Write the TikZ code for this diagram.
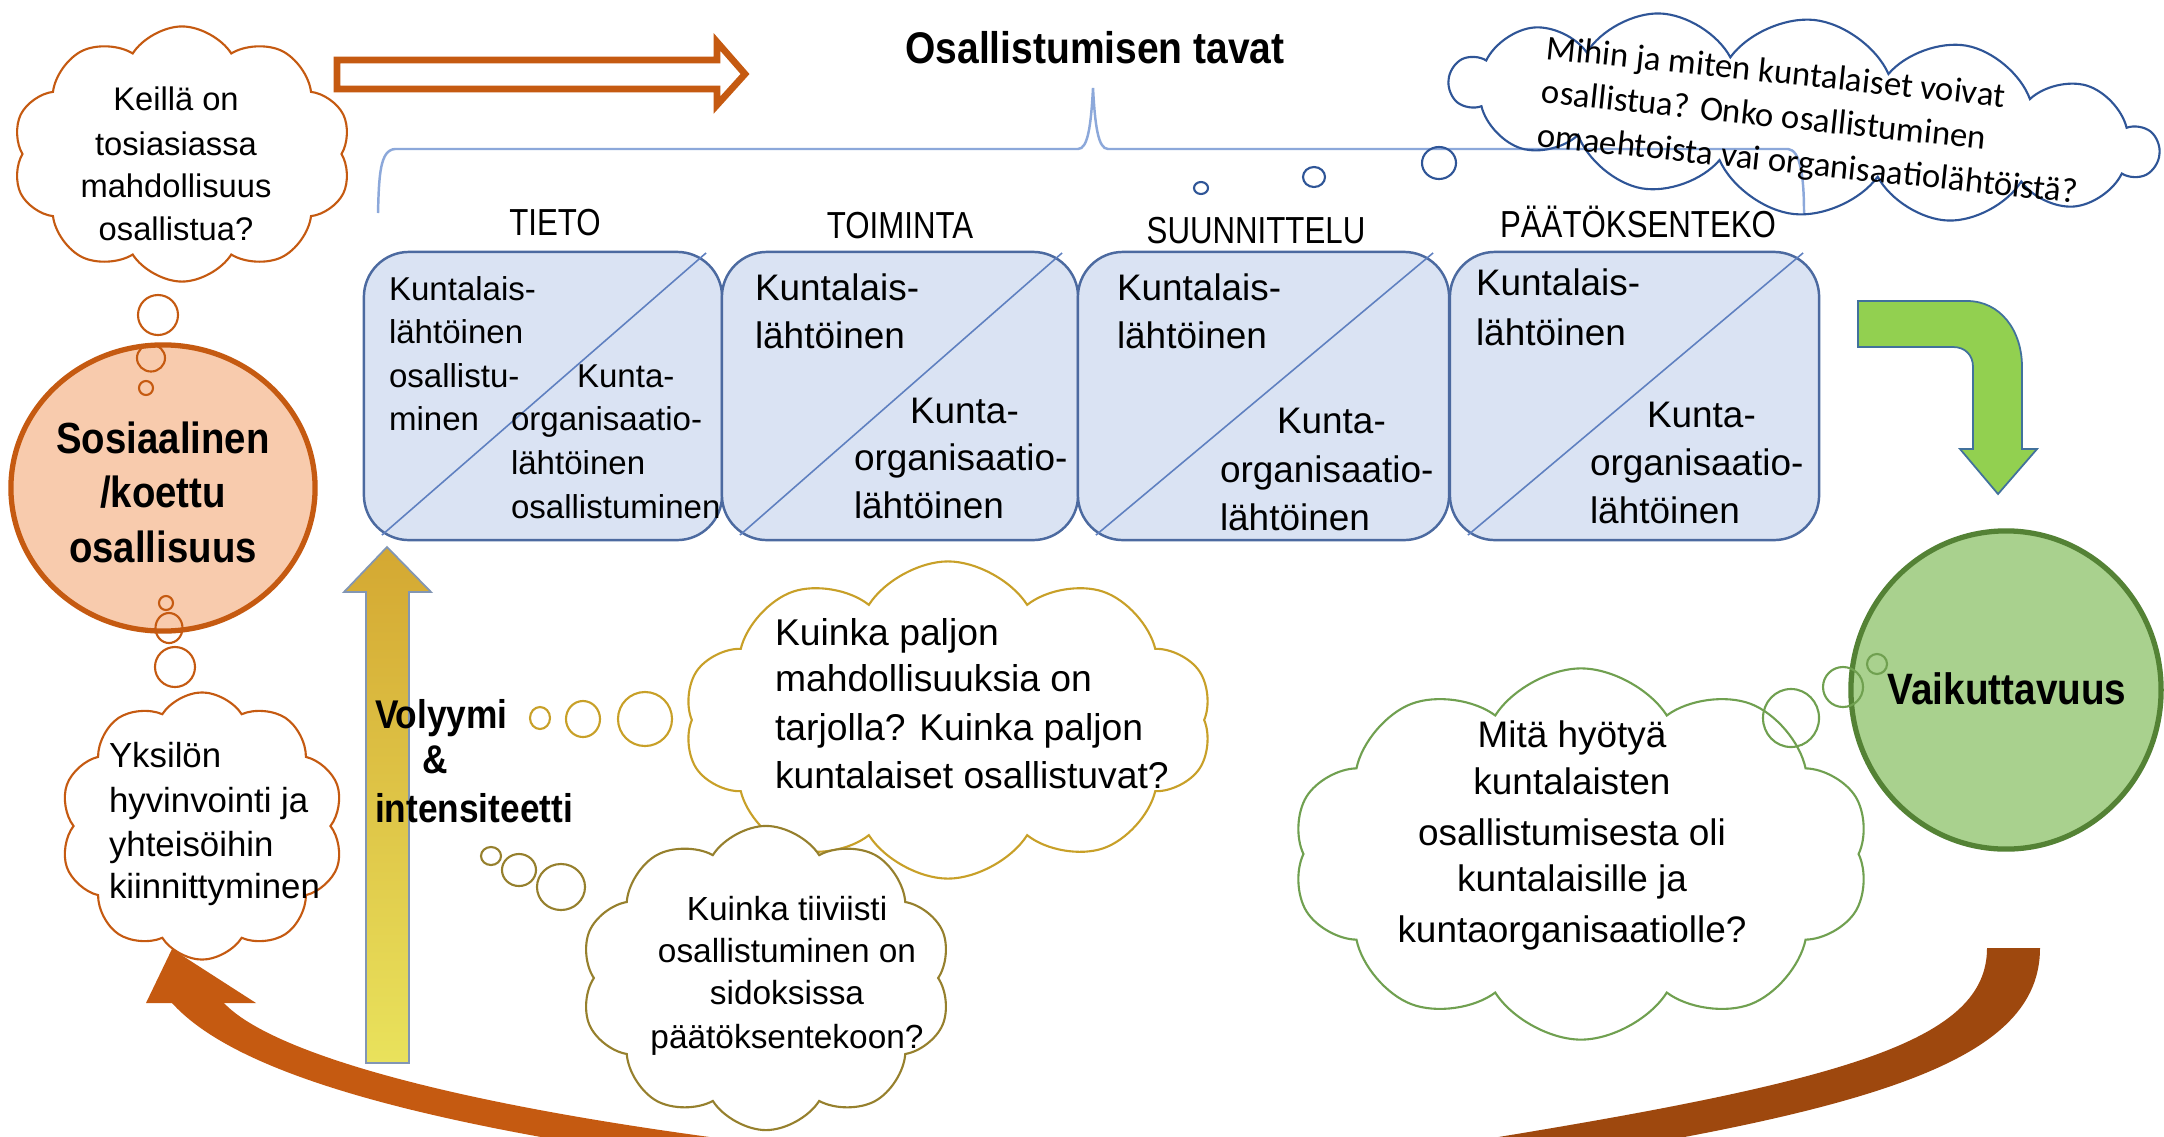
\documentclass[tikz,border=0pt]{standalone}
\usepackage{fontspec}
\setmainfont{Liberation Sans}
\newfontfamily\narrowfont{Liberation Sans}[FakeStretch=0.83]
\newfontfamily\boldnarrow{Liberation Sans}[FakeStretch=0.88]
\newfontfamily\calfont{Carlito}
\usetikzlibrary{shapes.geometric,shapes.symbols,calc}
\definecolor{boxfill}{RGB}{218,227,243}
\definecolor{boxdraw}{RGB}{76,106,160}
\definecolor{diagc}{RGB}{95,128,192}
\definecolor{bracec}{RGB}{140,168,218}
\definecolor{orng}{RGB}{197,90,17}
\definecolor{peach}{RGB}{248,203,173}
\definecolor{brownr}{RGB}{158,72,14}
\definecolor{goldA}{RGB}{200,160,40}
\definecolor{goldB}{RGB}{150,128,45}
\definecolor{grncl}{RGB}{112,160,80}
\definecolor{grnfill}{RGB}{169,209,142}
\definecolor{grndraw}{RGB}{84,130,53}
\definecolor{lime}{RGB}{146,208,80}
\definecolor{limedraw}{RGB}{65,113,156}
\definecolor{bluec}{RGB}{47,85,151}
\definecolor{yelA}{RGB}{212,168,50}
\definecolor{yelB}{RGB}{246,202,40}
\definecolor{yelC}{RGB}{233,226,92}
\definecolor{yeldraw}{RGB}{130,150,180}
\begin{document}
\begin{tikzpicture}[x=0.01cm,y=-0.01cm,
  every node/.style={inner sep=0pt, outer sep=0pt},
  ptbox/.style={draw=boxdraw, fill=boxfill, line width=0.7pt, rounded corners=0.45cm, minimum height=2.88cm},
  diag/.style={draw=diagc, line width=0.45pt},
  cl/.style={cloud, cloud puffs=10, cloud puff arc=115, cloud ignores aspect, line width=0.6pt, fill=white},
  bub/.style={ellipse, line width=0.6pt},
  bx/.style={font=\fontsize{10.5}{12.6}\selectfont, anchor=base west},
  bxs/.style={font=\fontsize{9.4}{11.3}\selectfont, anchor=base west},
  hd/.style={font=\narrowfont\fontsize{10.7}{12.8}\selectfont, anchor=base},
  bigb/.style={font=\boldnarrow\bfseries\fontsize{12.4}{15}\selectfont, anchor=base},
]
\useasboundingbox[fill=white] (0,0) rectangle (2164,1136);

% bottom curved arrows
\begin{scope}
\clip (0,0) rectangle (2164,1136);
\fill[brownr] (2040,948) .. controls (2040,1060) and (1880,1110) .. (1500,1168) -- (1480,1140) .. controls (1850,1080) and (1987,1040) .. (1987,948) -- cycle;
\fill[orng] (172,1003) .. controls (228,1065) and (380,1118) .. (700,1162) -- (780,1146) .. controls (440,1105) and (268,1050) .. (224,1003) -- cycle;
\fill[orng] (146,1003) -- (172,949) -- (256,1003) -- cycle;
\end{scope}

% brace
\draw[bracec, line width=0.7pt] (378,213) .. controls (379,175) and (380,150) .. (395,149) -- (1078,149) .. controls (1088,149) and (1091,125) .. (1093,88) .. controls (1095,125) and (1098,149) .. (1108,149) -- (1788,149) .. controls (1800,150) and (1804,175) .. (1804,213);

% title and headers
\node[bigb, font=\boldnarrow\bfseries\fontsize{12.6}{15}\selectfont] (title) at (1095,63) {Osallistumisen tavat};
\node[hd] (h1) at (555,235) {TIETO};
\node[hd] (h2) at (900,238) {TOIMINTA};
\node[hd] (h3) at (1256,243) {SUUNNITTELU};
\node[hd] (h4) at (1638,237) {PÄÄTÖKSENTEKO};

% boxes
\node[ptbox, minimum width=3.58cm] (bx1) at (543,396) {};
\draw[diag] ($(bx1.south west)+(18,-5)$) -- ($(bx1.north east)+(-16,1)$);
\node[ptbox, minimum width=3.56cm] (bx2) at (900,396) {};
\draw[diag] ($(bx2.south west)+(18,-5)$) -- ($(bx2.north east)+(-16,1)$);
\node[ptbox, minimum width=3.71cm] (bx3) at (1263.5,396) {};
\draw[diag] ($(bx3.south west)+(18,-5)$) -- ($(bx3.north east)+(-16,1)$);
\node[ptbox, minimum width=3.69cm] (bx4) at (1634.5,396) {};
\draw[diag] ($(bx4.south west)+(18,-5)$) -- ($(bx4.north east)+(-16,1)$);

% box texts
\foreach \t/\yy [count=\i] in {Kuntalais-/300, lähtöinen/343, osallistu-/387, minen/430}
  \node[bxs] (b1a\i) at (389,\yy) {\t};
\node[bxs] (b1b1) at (577,387) {Kunta-};
\foreach \t/\yy [count=\i] in {organisaatio-/430, lähtöinen/474, osallistuminen/518}
  \node[bxs] (b1c\i) at (511,\yy) {\t};

\node[bx] (b2a1) at (755,300) {Kuntalais-};
\node[bx] (b2a2) at (755,348) {lähtöinen};
\node[bx] (b2b1) at (910,423) {Kunta-};
\node[bx] (b2b2) at (854,470) {organisaatio-};
\node[bx] (b2b3) at (854,518) {lähtöinen};

\node[bx] (b3a1) at (1117,300) {Kuntalais-};
\node[bx] (b3a2) at (1117,348) {lähtöinen};
\node[bx] (b3b1) at (1277,433) {Kunta-};
\node[bx] (b3b2) at (1220,482) {organisaatio-};
\node[bx] (b3b3) at (1220,530) {lähtöinen};

\node[bx] (b4a1) at (1476,295) {Kuntalais-};
\node[bx] (b4a2) at (1476,345) {lähtöinen};
\node[bx] (b4b1) at (1647,427) {Kunta-};
\node[bx] (b4b2) at (1590,475) {organisaatio-};
\node[bx] (b4b3) at (1590,523) {lähtöinen};

% hollow orange arrow
\draw[orng, line width=1.9pt, fill=white, line join=miter] (337,60) -- (717,60) -- (717,42) -- (745,74) -- (717,105) -- (717,89) -- (337,89) -- cycle;

% ellipses
\node[ellipse, draw=orng, fill=peach, line width=1.5pt, minimum width=3.04cm, minimum height=2.86cm] (soc) at (163,488) {};
\node[bigb] (soc1) at (163,453) {Sosiaalinen};
\node[bigb] (soc2) at (163,507) {/koettu};
\node[bigb] (soc3) at (163,562) {osallisuus};

\node[ellipse, draw=grndraw, fill=grnfill, line width=1.5pt, minimum width=3.10cm, minimum height=3.18cm] (vai) at (2006,690) {};
\node[bigb, font=\boldnarrow\bfseries\fontsize{12.5}{15}\selectfont] (vait) at (2007,704) {Vaikuttavuus};

% cloud 1 (top left)
\node[cl, draw=orng, minimum width=3.39cm, minimum height=2.55cm] (c1) at (182,154) {};
\foreach \t/\yy [count=\i] in {Keillä on/110, tosiasiassa/155, mahdollisuus/197, osallistua?/240}
  \node[font=\fontsize{9.3}{11}\selectfont, anchor=base] (c1t\i) at (176,\yy) {\t};
\node[bub, draw=orng, minimum width=0.40cm, minimum height=0.40cm] (c1b1) at (158,315) {};
\node[bub, draw=orng, minimum width=0.28cm, minimum height=0.27cm] (c1b2) at (151,358) {};
\node[bub, draw=orng, minimum width=0.14cm, minimum height=0.14cm] (c1b3) at (146,388) {};

% cloud 2 (lower left)
\node[cl, draw=orng, minimum width=2.84cm, minimum height=2.67cm] (c2) at (202,826) {};
\foreach \t/\yy [count=\i] in {Yksilön/767, hyvinvointi ja/812, yhteisöihin/856, kiinnittyminen/898}
  \node[font=\fontsize{9.9}{12}\selectfont, anchor=base west] (c2t\i) at (109,\yy) {\t};
\node[bub, draw=orng, minimum width=0.14cm, minimum height=0.14cm] (c2b1) at (166,603) {};
\node[bub, draw=orng, minimum width=0.27cm, minimum height=0.30cm] (c2b2) at (169,628) {};
\node[bub, draw=orng, minimum width=0.40cm, minimum height=0.40cm] (c2b3) at (175,667) {};

% yellow arrow
\shade[top color=yelA, middle color=yelB, bottom color=yelC] (387,547) -- (431,592) -- (409,592) -- (409,1063) -- (366,1063) -- (366,592) -- (344,592) -- cycle;
\draw[yeldraw, line width=0.5pt] (387,547) -- (431,592) -- (409,592) -- (409,1063) -- (366,1063) -- (366,592) -- (344,592) -- cycle;
\node[bigb, font=\boldnarrow\bfseries\fontsize{11.4}{14}\selectfont, anchor=base west] (vol1) at (375,728) {Volyymi};
\node[bigb, font=\boldnarrow\bfseries\fontsize{11.4}{14}\selectfont, anchor=base west] (vol2) at (422,773) {\&};
\node[bigb, font=\boldnarrow\bfseries\fontsize{11.4}{14}\selectfont, anchor=base west] (vol3) at (375,822) {intensiteetti};

% gold cloud 3
\node[cl, draw=goldA, minimum width=5.28cm, minimum height=3.17cm] (c3) at (948,720) {};
\foreach \t/\yy [count=\i] in {Kuinka paljon/645, mahdollisuuksia on/691, tarjolla? Kuinka paljon/740, kuntalaiset osallistuvat?/788}
  \node[font=\fontsize{10.6}{13}\selectfont, anchor=base west] (c3t\i) at (775,\yy) {\t};
\node[bub, draw=goldA, minimum width=0.20cm, minimum height=0.22cm] (c3b1) at (540,718) {};
\node[bub, draw=goldA, minimum width=0.34cm, minimum height=0.36cm] (c3b2) at (583,719) {};
\node[bub, draw=goldA, minimum width=0.54cm, minimum height=0.54cm] (c3b3) at (645,719) {};

% gold cloud 4
\node[cl, draw=goldB, minimum width=3.71cm, minimum height=3.04cm] (c4) at (766,978) {};
\foreach \t/\yy [count=\i] in {Kuinka tiiviisti/920, osallistuminen on/962, sidoksissa/1004, päätöksentekoon?/1048}
  \node[font=\fontsize{9.5}{11.5}\selectfont, anchor=base] (c4t\i) at (787,\yy) {\t};
\node[bub, draw=goldB, minimum width=0.20cm, minimum height=0.18cm] (c4b1) at (491,856) {};
\node[bub, draw=goldB, minimum width=0.34cm, minimum height=0.32cm] (c4b2) at (519,870) {};
\node[bub, draw=goldB, minimum width=0.48cm, minimum height=0.46cm] (c4b3) at (561,887) {};

% green cloud 5
\node[cl, draw=grncl, minimum width=5.77cm, minimum height=3.71cm] (c5) at (1581,854) {};
\foreach \t/\yy [count=\i] in {Mitä hyötyä/747, kuntalaisten/794, osallistumisesta oli/845, kuntalaisille ja/891, kuntaorganisaatiolle?/942}
  \node[font=\fontsize{10.5}{12.6}\selectfont, anchor=base] (c5t\i) at (1572,\yy) {\t};
\node[bub, draw=grncl, minimum width=0.56cm, minimum height=0.58cm] (c5b1) at (1791,718) {};
\node[bub, draw=grncl, minimum width=0.40cm, minimum height=0.40cm] (c5b2) at (1843,687) {};
\node[bub, draw=grncl, minimum width=0.20cm, minimum height=0.20cm] (c5b3) at (1877,664) {};

% blue cloud 6
\node[cl, draw=bluec, fill=none, rotate=-6, cloud puffs=14, cloud puff arc=120, minimum width=7.1cm, minimum height=1.95cm] (c6) at (1804,117) {};
\node[font=\calfont\fontsize{9.9}{12.5}\selectfont, align=left, anchor=north west, rotate=-6] (c6t) at (1548,35) {Mihin ja miten kuntalaiset voivat\\osallistua? Onko osallistuminen\\omaehtoista vai organisaatiolähtöistä?};
\node[bub, draw=bluec, minimum width=0.14cm, minimum height=0.12cm] (c6b1) at (1201,188) {};
\node[bub, draw=bluec, minimum width=0.22cm, minimum height=0.20cm] (c6b2) at (1314,177) {};
\node[bub, draw=bluec, minimum width=0.34cm, minimum height=0.32cm] (c6b3) at (1439,163) {};

% green bent arrow
\filldraw[fill=lime, draw=limedraw, line width=0.5pt] (1858,301) -- (1967,301) .. controls (2000,301) and (2022,330) .. (2022,367) -- (2022,449) -- (2037,449) -- (1998,494) -- (1960,449) -- (1973,449) -- (1973,367) .. controls (1973,355) and (1965,347) .. (1953,347) -- (1858,347) -- cycle;
\end{tikzpicture}
\end{document}
